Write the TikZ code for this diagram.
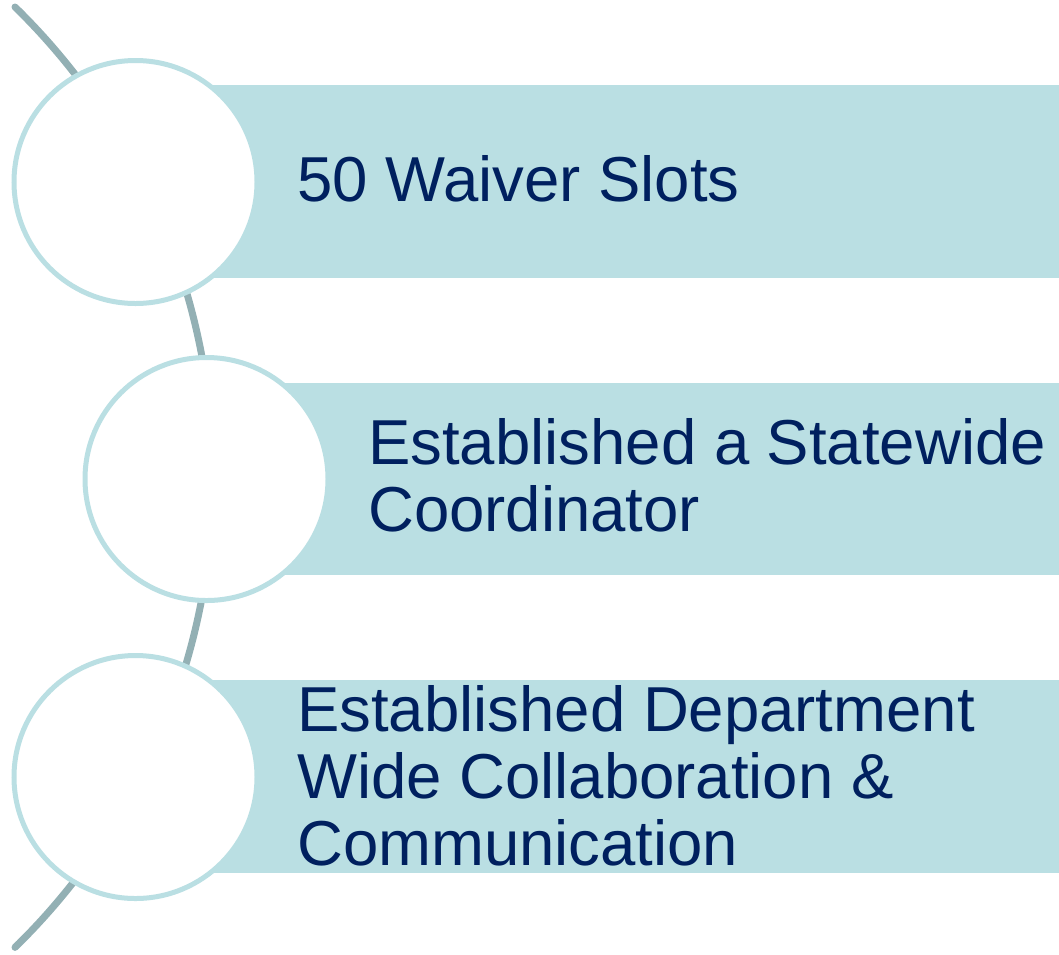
\documentclass[tikz,border=0pt]{standalone}
\usepackage{fontspec}
\setmainfont{Liberation Sans}
\usetikzlibrary{positioning}
\definecolor{bandcol}{HTML}{BADFE3}
\definecolor{ringcol}{HTML}{BADFE3}
\definecolor{spinecol}{HTML}{93B0B4}
\definecolor{inkcol}{HTML}{00205F}

\begin{document}
\begin{tikzpicture}[x=1pt,y=-1pt,
   disc/.style={circle,draw=ringcol,line width=5pt,fill=white,minimum size=243pt,inner sep=0pt},
   txt/.style={anchor=west,inner sep=0pt,align=left,text=inkcol,font=\fontsize{63.5}{67}\selectfont},
   spine/.style={draw=spinecol,line width=7pt,line cap=round}]
   \useasboundingbox (0,0) rectangle (1059,954);
   % the curved line behind the circles
   \coordinate (stop) at (15,7);
   \draw[spine] (stop) arc[start angle=-45.7,end angle=45.7,radius=657];
   % bands
   \fill[bandcol] (135,85) rectangle (1059,278);
   \fill[bandcol] (206,383) rectangle (1059,575);
   \fill[bandcol] (135,680) rectangle (1059,873);
   % circles
   \node[disc] (one) at (135.5,182) {};
   \node[disc] (two) at (206.5,479) {};
   \node[disc] (three) at (135.5,777) {};
   % texts
   \node[txt] (tone) at (297,179) {50 Waiver Slots};
   \node[txt] (ttwo) at (368,475.5) {Established a Statewide\\Coordinator};
   \node[txt] (tthree) at (297,776) {Established Department\\Wide Collaboration \&\\Communication};
\end{tikzpicture}
\end{document}
